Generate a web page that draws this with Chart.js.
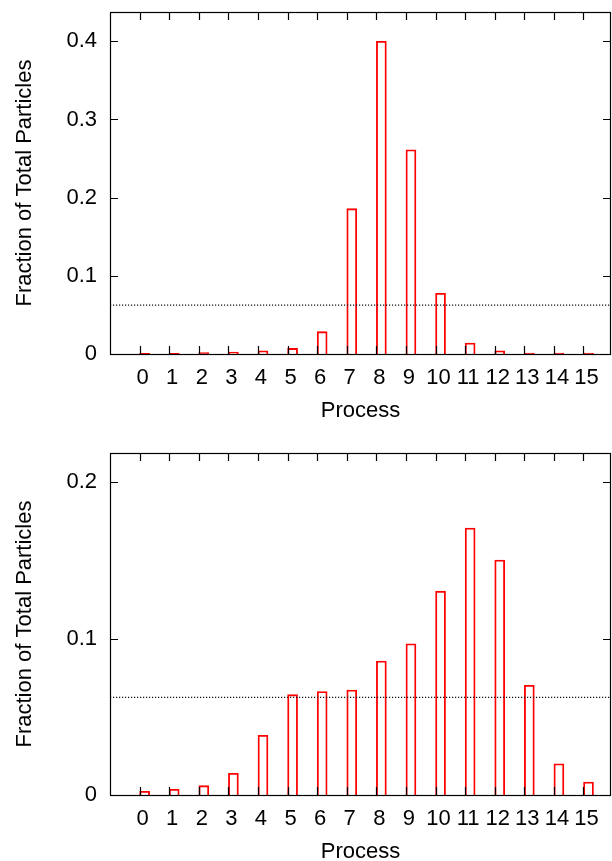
<!DOCTYPE html>
<html>
<head>
<meta charset="utf-8">
<script src="https://cdn.jsdelivr.net/npm/chart.js@4/dist/chart.umd.min.js"></script>
<style>
  html, body { margin: 0; padding: 0; background: #fff; overflow: hidden; }
  .panel { position: absolute; left: 0; }
</style>
</head>
<body>
<div class="panel" style="top:0"><canvas id="topChart" width="612" height="424"></canvas></div>
<div class="panel" style="top:430px"><canvas id="bottomChart" width="612" height="435"></canvas></div>
<script>
// processes 0..15
const processes = [0, 1, 2, 3, 4, 5, 6, 7, 8, 9, 10, 11, 12, 13, 14, 15];

// fraction of particles per process, before and after
const fractionTop = [0.0008, 0.001, 0.0017, 0.0026, 0.0042, 0.0072, 0.0286, 0.186,
                     0.4, 0.2613, 0.0776, 0.0141, 0.0042, 0.0013, 0.0013, 0.0013];
const fractionBottom = [0.0024, 0.0037, 0.006, 0.0139, 0.0382, 0.0642, 0.0662, 0.0671,
                        0.0857, 0.0967, 0.1304, 0.1708, 0.1503, 0.0702, 0.02, 0.0083];

const yTicksTop = [0, 0.1, 0.2, 0.3, 0.4];
const yTicksBottom = [0, 0.1, 0.2];

const idealShare = 1 / 16; // even split over 16 processes

const BOX_SHIFT = 0.17; // boxes start at the tick, like gnuplot's ($1+0.17)

Chart.defaults.font.family = "'Liberation Sans', Arial, sans-serif";
Chart.defaults.font.size = 22;
Chart.defaults.color = '#000';

// gnuplot-like frame with inward ticks on all four sides
const frameTicks = {
    id: 'frameTicks',
    afterDatasetsDraw(chart) {
        const { ctx, chartArea: a, scales: { x, y } } = chart;
        const len = 8;
        ctx.save();
        ctx.strokeStyle = '#000';
        ctx.lineWidth = 1.2;
        ctx.beginPath();
        x.ticks.forEach(t => {
            const px = Math.round(x.getPixelForValue(t.value)) + 0.5;
            ctx.moveTo(px, a.bottom); ctx.lineTo(px, a.bottom - len);
            ctx.moveTo(px, a.top); ctx.lineTo(px, a.top + len);
        });
        y.ticks.forEach(t => {
            const py = Math.round(y.getPixelForValue(t.value)) + 0.5;
            ctx.moveTo(a.left, py); ctx.lineTo(a.left + len, py);
            ctx.moveTo(a.right, py); ctx.lineTo(a.right - len, py);
        });
        ctx.stroke();
        ctx.strokeRect(a.left + 0.5, a.top + 0.5, a.width - 1, a.height);
        ctx.restore();
    }
};

function makeChart(id, values, yMax, yTicks, padTop) {
    const ctx = document.getElementById(id).getContext('2d');
    return new Chart(ctx, {
        type: 'bar',
        data: {
            datasets: [{
                type: 'bar',
                data: processes.map((p, i) => ({ x: p + BOX_SHIFT, y: values[i] })),
                backgroundColor: 'rgba(0,0,0,0)',
                borderColor: '#ff0000',
                borderWidth: 1.2,
                barThickness: 10,
                order: 2
            }, {
                type: 'line',
                data: [{ x: -1, y: idealShare }, { x: 15.93, y: idealShare }],
                borderColor: '#111',
                borderWidth: 1.2,
                borderDash: [1.2, 1.8],
                pointRadius: 0,
                order: 1
            }]
        },
        options: {
            responsive: false,
            animation: false,
            layout: { padding: { top: padTop, right: 1, left: 0, bottom: 0 } },
            plugins: { legend: { display: false }, tooltip: { enabled: false } },
            scales: {
                x: {
                    type: 'linear',
                    offset: false,
                    min: -1,
                    max: 15.93,
                    grid: { display: false, drawTicks: false },
                    border: { display: false },
                    afterBuildTicks: s => { s.ticks = processes.map(v => ({ value: v })); },
                    afterFit: s => { s.height = 70; s.paddingLeft = 0; s.paddingRight = 0; },
                    ticks: { autoSkip: false, maxRotation: 0, padding: 11, labelOffset: 3,
                             callback: v => String(v) },
                    title: { display: true, text: 'Process', padding: { top: 0, bottom: 0 } }
                },
                y: {
                    min: 0,
                    max: yMax,
                    grid: { display: false, drawTicks: false },
                    border: { display: false },
                    afterBuildTicks: s => { s.ticks = yTicks.map(v => ({ value: v })); },
                    afterFit: s => { s.width = 110; s.paddingTop = 0; s.paddingBottom = 0; },
                    ticks: { padding: 13, callback: v => String(v) },
                    title: { display: true, text: 'Fraction of Total Particles', padding: { top: 12, bottom: 0 } }
                }
            }
        },
        plugins: [frameTicks]
    });
}

makeChart('topChart', fractionTop, 0.4375, yTicksTop, 12);
makeChart('bottomChart', fractionBottom, 0.21875, yTicksBottom, 23);
</script>
</body>
</html>
